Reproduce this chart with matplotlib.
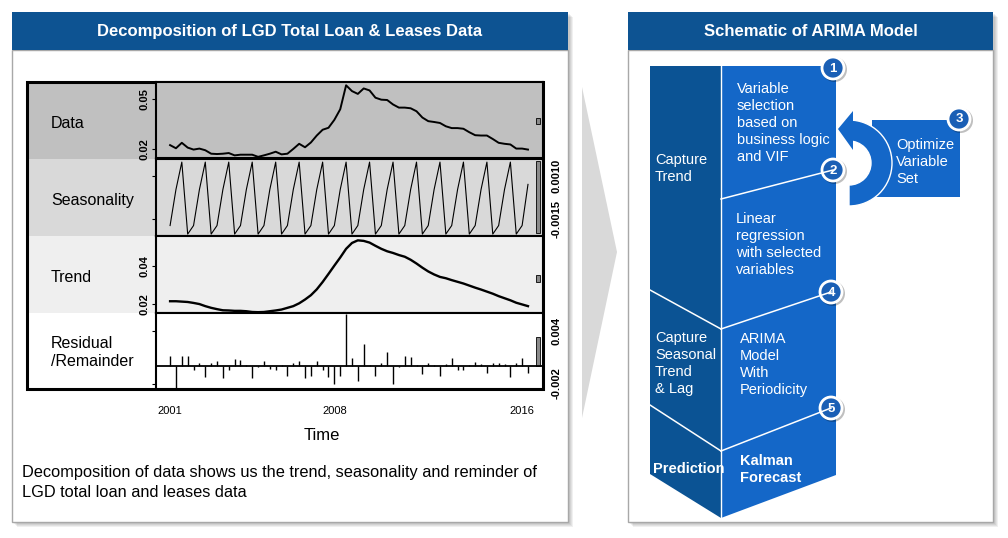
import matplotlib.pyplot as plt
import numpy as np
from matplotlib.patches import Rectangle, Polygon, Circle, Wedge
from matplotlib.transforms import blended_transform_factory

plt.rcParams['font.family'] = ['Liberation Sans', 'DejaVu Sans']

# quarterly LGD series, 2001 Q1 .. 2016 Q2
lgd_data = [0.0221, 0.0202, 0.0235, 0.0206, 0.0194, 0.0200, 0.0190, 0.0169,
            0.0167, 0.0169, 0.0173, 0.0159, 0.0163, 0.0163, 0.0163, 0.0150,
            0.0159, 0.0169, 0.0181, 0.0165, 0.0169, 0.0198, 0.0229, 0.0208,
            0.0237, 0.0279, 0.0314, 0.0326, 0.0374, 0.0438, 0.0583, 0.0548,
            0.0531, 0.0564, 0.0552, 0.0508, 0.0496, 0.0494, 0.0467, 0.0448,
            0.0448, 0.0444, 0.0426, 0.0388, 0.0366, 0.0361, 0.0355, 0.0335,
            0.0324, 0.0324, 0.0320, 0.0299, 0.0281, 0.0279, 0.0279, 0.0258,
            0.0235, 0.0229, 0.0225, 0.0200, 0.0200, 0.0194]

seasonality = [-0.0019, 0.0002, 0.0018, -0.0024, -0.0019, 0.0002, 0.0018, -0.0024,
               -0.0019, 0.0002, 0.0018, -0.0024, -0.0019, 0.0002, 0.0018, -0.0024,
               -0.0019, 0.0002, 0.0018, -0.0024, -0.0019, 0.0002, 0.0018, -0.0024,
               -0.0019, 0.0002, 0.0018, -0.0024, -0.0019, 0.0002, 0.0018, -0.0024,
               -0.0019, 0.0002, 0.0018, -0.0024, -0.0019, 0.0002, 0.0018, -0.0024,
               -0.0019, 0.0002, 0.0018, -0.0024, -0.0019, 0.0002, 0.0018, -0.0024,
               -0.0019, 0.0002, 0.0018, -0.0024, -0.0019, 0.0002, 0.0018, -0.0024,
               -0.0019, 0.0002, 0.0018, -0.0024, -0.0019, 0.0005]

trend = [0.0213, 0.0213, 0.0211, 0.0209, 0.0204, 0.0198, 0.0187, 0.0178,
         0.0171, 0.0165, 0.0164, 0.0162, 0.0162, 0.0160, 0.0156, 0.0155,
         0.0156, 0.0160, 0.0164, 0.0169, 0.0178, 0.0187, 0.0202, 0.0222,
         0.0245, 0.0276, 0.0315, 0.0358, 0.0402, 0.0445, 0.0491, 0.0522,
         0.0536, 0.0533, 0.0524, 0.0507, 0.0491, 0.0478, 0.0469, 0.0458,
         0.0449, 0.0433, 0.0413, 0.0391, 0.0371, 0.0355, 0.0342, 0.0335,
         0.0325, 0.0316, 0.0307, 0.0296, 0.0285, 0.0275, 0.0264, 0.0253,
         0.0240, 0.0229, 0.0218, 0.0205, 0.0196, 0.0187]

remainder = [0.0012, -0.0026, 0.0011, 0.0012, -0.0005, 0.0003, -0.0012, 0.0003,
             0.0006, -0.0014, -0.0004, 0.0008, 0.0007, 0.0001, -0.0014, -0.0001,
             0.0006, -0.0003, -0.0004, 0.0001, -0.0011, 0.0003, 0.0006, -0.0014,
             -0.0011, 0.0006, -0.0005, -0.0012, -0.0021, -0.0011, 0.0060, 0.0009,
             -0.0017, 0.0025, 0.0001, -0.0011, 0.0003, 0.0016, -0.0021, -0.0001,
             0.0011, 0.0010, 0.0001, -0.0009, 0.0003, 0.0001, -0.0011, 0.0002,
             0.0009, -0.0004, -0.0004, 0.0001, 0.0005, 0.0002, -0.0008, 0.0003,
             0.0003, 0.0002, -0.0012, 0.0004, 0.0009, -0.0008]

time_ticks = [2001, 2008, 2016]
row_labels = ["Data", "Seasonality", "Trend", "Residual\n/Remainder"]

time = 2001 + np.arange(len(lgd_data)) / 4

W, H = 1008, 538
fig = plt.figure(figsize=(W / 100, H / 100), dpi=100)
bg = fig.add_axes([0, 0, 1, 1])
bg.set_xlim(0, W)
bg.set_ylim(H, 0)
bg.axis('off')


def px_axes(x0, y0, x1, y1):
    return fig.add_axes([x0 / W, 1 - y1 / H, (x1 - x0) / W, (y1 - y0) / H])


NAVY = '#0d5392'
DARK = '#0b5394'
LIGHT = '#1467c8'


def panel(x0, x1, title):
    for k in (5, 4, 3, 2):
        bg.add_patch(Rectangle((x0 + k, 12 + k), x1 - x0, 510, fc='black', alpha=0.06, ec='none'))
    bg.add_patch(Rectangle((x0, 50), x1 - x0, 472, fc='white', ec='#a8a8a8', lw=1))
    bg.add_patch(Rectangle((x0, 12), x1 - x0, 38, fc=NAVY, ec='none'))
    bg.text((x0 + x1) / 2, 31.5, title, color='white', fontsize=12, fontweight='bold',
            ha='center', va='center')


panel(12, 568, "Decomposition of LGD Total Loan & Leases Data")
panel(628, 993, "Schematic of ARIMA Model")

# gray chevron between panels
bg.add_patch(Polygon([(582, 87), (617, 252), (582, 418)], fc='#d9d9d9', ec='none'))

# ---- decomposition plot ----
rows_px = [82, 158.5, 236, 313.3, 389]
row_colors = ['#c0c0c0', '#d9d9d9', '#efefef', '#ffffff']
label_shift = [3, 3, 3, 1.5]
for i, lab in enumerate(row_labels):
    y0, y1 = rows_px[i], rows_px[i + 1]
    bg.add_patch(Rectangle((27, y0), 129, y1 - y0, fc=row_colors[i], ec='none'))
    bg.text(51, (y0 + y1) / 2 + label_shift[i], lab, fontsize=11.5, ha='left', va='center',
            linespacing=1.3)
bg.add_patch(Rectangle((27, 82), 516, 307, fc='none', ec='black', lw=2.2))

series = [lgd_data, seasonality, trend, remainder]
ylims = [(0.0140, 0.0603), (-0.00251, 0.00201), (0.0149, 0.0559), (-0.00263, 0.00605)]
yticks = [[0.02, 0.05], [-0.0015, 0.0010], [0.02, 0.04], [-0.002, 0.004]]
ytick_text = [['0.02', '0.05'], ['-0.0015', '0.0010'], ['0.02', '0.04'], ['-0.002', '0.004']]
bars = [(0.0349, 0.0387), (-0.00233, 0.00189), (0.0316, 0.0352), (0.0, 0.0033)]
line_w = [1.4, 0.8, 1.7, 1.0]

for i in range(4):
    ax = px_axes(156, rows_px[i], 543, rows_px[i + 1])
    ax.set_facecolor(row_colors[i])
    if i == 3:
        ax.vlines(time, 0, series[i], color='black', lw=line_w[i])
        ax.axhline(0, color='black', lw=1.3)
    else:
        ax.plot(time, series[i], color='black', lw=line_w[i])
    ax.set_xlim(2000.40, 2016.89)
    ax.set_ylim(*ylims[i])
    ax.set_yticks(yticks[i])
    ax.set_yticklabels(ytick_text[i], fontweight='bold')
    right = i in (1, 3)
    ax.tick_params(axis='y', labelsize=8, labelrotation=90, length=3, width=0.8,
                   left=True, right=False, labelleft=not right, labelright=right,
                   pad=3 if right else 2)
    for lbl in ax.get_yticklabels():
        lbl.set_va('center')
    if i == 3:
        ax.set_xticks(time_ticks)
        ax.set_xticklabels([str(t) for t in time_ticks])
        ax.tick_params(axis='x', labelsize=8, length=0, pad=12)
    else:
        ax.set_xticks([])
    for s in ax.spines.values():
        s.set_linewidth(1.5)
        s.set_color('black')
    tr = blended_transform_factory(ax.transAxes, ax.transData)
    lo, hi = bars[i]
    ax.add_patch(Rectangle((0.981, lo), 0.011, hi - lo, transform=tr,
                           fc='#8a8a8a', ec='black', lw=0.6))

bg.text(322, 435, "Time", fontsize=12, ha='center', va='center')
bg.text(22, 465.5, "Decomposition of data shows us the trend, seasonality and reminder of\n"
        "LGD total loan and leases data", fontsize=11.8, ha='left', va='top', linespacing=1.4)

# ---- ARIMA schematic ----
bg.add_patch(Polygon([(650, 66), (721, 66), (721, 518), (650, 474)], fc=DARK, ec='none'))
bg.add_patch(Polygon([(721, 66), (836, 66), (836, 475), (721, 518)], fc=LIGHT, ec='none'))
bg.plot([721, 721], [66, 518], color='white', lw=1)
for (xa, ya), (xb, yb) in [((721, 199), (833, 170)), ((650, 290), (721, 329)),
                           ((721, 329), (831, 292)), ((650, 405), (721, 451)),
                           ((721, 451), (831, 408))]:
    bg.plot([xa, xb], [ya, yb], color='white', lw=1.1)

bg.add_patch(Rectangle((872, 120), 88, 77, fc=LIGHT, ec='none'))
bg.add_patch(Wedge((849, 163), 43, -90, 90, width=21, fc=LIGHT, ec='white', lw=1))
bg.add_patch(Polygon([(853, 111), (853, 150), (838, 129)], fc=LIGHT, ec='none'))

txt = dict(color='white', fontsize=10.5, ha='left', va='top', linespacing=1.27)
bg.text(737, 82, "Variable\nselection\nbased on\nbusiness logic\nand VIF", **txt)
bg.text(655, 153, "Capture\nTrend", **txt)
bg.text(896, 138, "Optimize\nVariable\nSet", **txt)
bg.text(736, 212, "Linear\nregression\nwith selected\nvariables", **txt)
bg.text(655, 331, "Capture\nSeasonal\nTrend\n& Lag", **txt)
bg.text(740, 332, "ARIMA\nModel\nWith\nPeriodicity", **txt)
bg.text(653, 462, "Prediction", fontweight='bold', **txt)
bg.text(740, 454, "Kalman\nForecast", fontweight='bold', **txt)

for n, (cx, cy) in enumerate([(833, 68), (833, 170), (959, 119), (831, 292), (831, 408)], 1):
    bg.add_patch(Circle((cx + 1.5, cy + 1.5), 12.5, fc='black', alpha=0.25, ec='none'))
    bg.add_patch(Circle((cx, cy), 11, fc='#1a5fb5', ec='white', lw=2))
    bg.text(cx, cy + 0.5, str(n), color='white', fontsize=9.5, fontweight='bold',
            ha='center', va='center')

fig.savefig('out.png', dpi=100)
